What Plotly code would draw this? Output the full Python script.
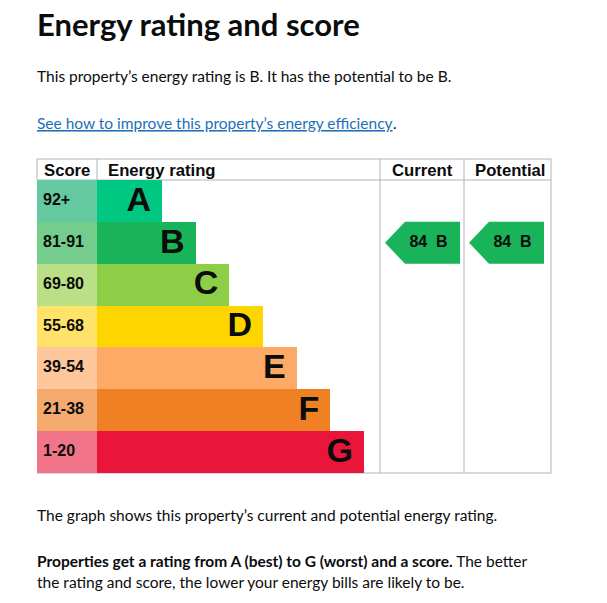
import plotly.graph_objects as go

# EPC bands, best to worst
ratings = ["A", "B", "C", "D", "E", "F", "G"]
score_ranges = ["92+", "81-91", "69-80", "55-68", "39-54", "21-38", "1-20"]
band_min = [92, 81, 69, 55, 39, 21, 1]
band_colors = ["#00c781", "#19b459", "#8dce46", "#ffd500", "#fcaa65", "#ef8023", "#e9153b"]
score_colors = ["#64c8a1", "#75cd8d", "#badf86", "#ffe368", "#fdc69b", "#f4aa6c", "#f27489"]

current_score = 84
potential_score = 84

W, H = 607, 603


def py(p):
    # pixel row -> paper fraction
    return 1 - p / H


def band_of(score):
    for i, m in enumerate(band_min):
        if score >= m:
            return i
    return len(band_min) - 1


rows = list(range(len(ratings)))
bar_len = [65 + 33.67 * i for i in rows]

fig = go.Figure()

# score column
fig.add_trace(go.Bar(
    y=rows, x=[60] * len(rows), base=37, orientation="h",
    marker=dict(color=score_colors, line=dict(width=0)),
    width=1, hoverinfo="skip", showlegend=False,
))
# rating bars
fig.add_trace(go.Bar(
    y=rows, x=bar_len, base=97, orientation="h",
    marker=dict(color=band_colors, line=dict(width=0)),
    width=1, hoverinfo="skip", showlegend=False,
))
fig.add_trace(go.Scatter(
    x=[43] * len(rows), y=rows, mode="text", text=score_ranges,
    textposition="middle right",
    textfont=dict(family="Liberation Sans", size=16, color="#0b0c0c", weight="bold"),
    hoverinfo="skip", showlegend=False,
))
fig.add_trace(go.Scatter(
    x=[97 + b - 11 for b in bar_len], y=[r + 0.03 for r in rows], mode="text", text=ratings,
    textposition="middle left",
    textfont=dict(family="Liberation Sans", size=34, color="#0b0c0c", weight="bold"),
    hoverinfo="skip", showlegend=False,
))


def pointer(score, tip, shoulder, right):
    r = band_of(score)
    fig.add_trace(go.Scatter(
        x=[tip, shoulder, right, right, shoulder, tip],
        y=[r, r - 0.5, r - 0.5, r + 0.5, r + 0.5, r],
        mode="lines", fill="toself", fillcolor=band_colors[r],
        line=dict(width=0, color=band_colors[r]),
        hoverinfo="skip", showlegend=False,
    ))
    fig.add_trace(go.Scatter(
        x=[(shoulder + right) / 2 - 4], y=[r], mode="text",
        text=[f"{score}  {ratings[r]}"], textposition="middle center",
        textfont=dict(family="Liberation Sans", size=16, color="#0b0c0c", weight="bold"),
        hoverinfo="skip", showlegend=False,
    ))


pointer(current_score, 385, 405, 460)
pointer(potential_score, 469, 489, 544)

grid = "#b1b4b6"
lines = [
    (37, 159, 551, 159), (37, 180, 551, 180), (37, 473, 551, 473),
    (37, 159, 37, 180), (97, 159, 97, 180),
    (380, 159, 380, 473), (464, 159, 464, 473), (551, 159, 551, 473),
]
shapes = [dict(type="line", xref="x", yref="paper", x0=a, y0=py(b), x1=c, y1=py(d),
               line=dict(color=grid, width=1), layer="below") for a, b, c, d in lines]

body = dict(family="Lato", size=15.5, color="#0b0c0c")
hdr = dict(family="Liberation Sans", size=16.7, color="#0b0c0c", weight="bold")


def note(x, y, text, font, **kw):
    return dict(x=x, y=py(y), xref="x", yref="paper", text=text, showarrow=False,
                xanchor="left", yanchor="middle", font=font, **kw)


annotations = [
    note(35, 24, "<b>Energy rating and score</b>", dict(family="Lato", size=31, color="#0b0c0c")),
    note(35, 76, "This property’s energy rating is B. It has the potential to be B.", body),
    note(35, 123, "See how to improve this property’s energy efficiency",
         dict(family="Lato", size=15.5, color="#1d70b8", lineposition="under")),
    note(391, 123, ".", body),
    note(42, 170, "Score", hdr),
    note(106, 170, "Energy rating", hdr),
    note(390, 170, "Current", hdr),
    note(473, 170, "Potential", hdr),
    note(35, 515, "The graph shows this property’s current and potential energy rating.", body),
    note(35, 561, "<b>Properties get a rating from A (best) to G (worst) and a score.</b> The better", body),
    note(35, 582, "the rating and score, the lower your energy bills are likely to be.", body),
]

fig.update_layout(
    width=W, height=H, margin=dict(l=0, r=0, t=0, b=0),
    paper_bgcolor="white", plot_bgcolor="white",
    barmode="overlay", bargap=0,
    xaxis=dict(range=[0, W], visible=False, fixedrange=True),
    yaxis=dict(range=[6.5, -0.5], visible=False, fixedrange=True,
               domain=[py(473), py(180)]),
    shapes=shapes, annotations=annotations,
)

# drop the page's default body margin so the figure fills the window
fig.write_html("out.html", config={"displayModeBar": False},
               post_script="document.body.style.margin='0';document.body.style.overflow='hidden';")
